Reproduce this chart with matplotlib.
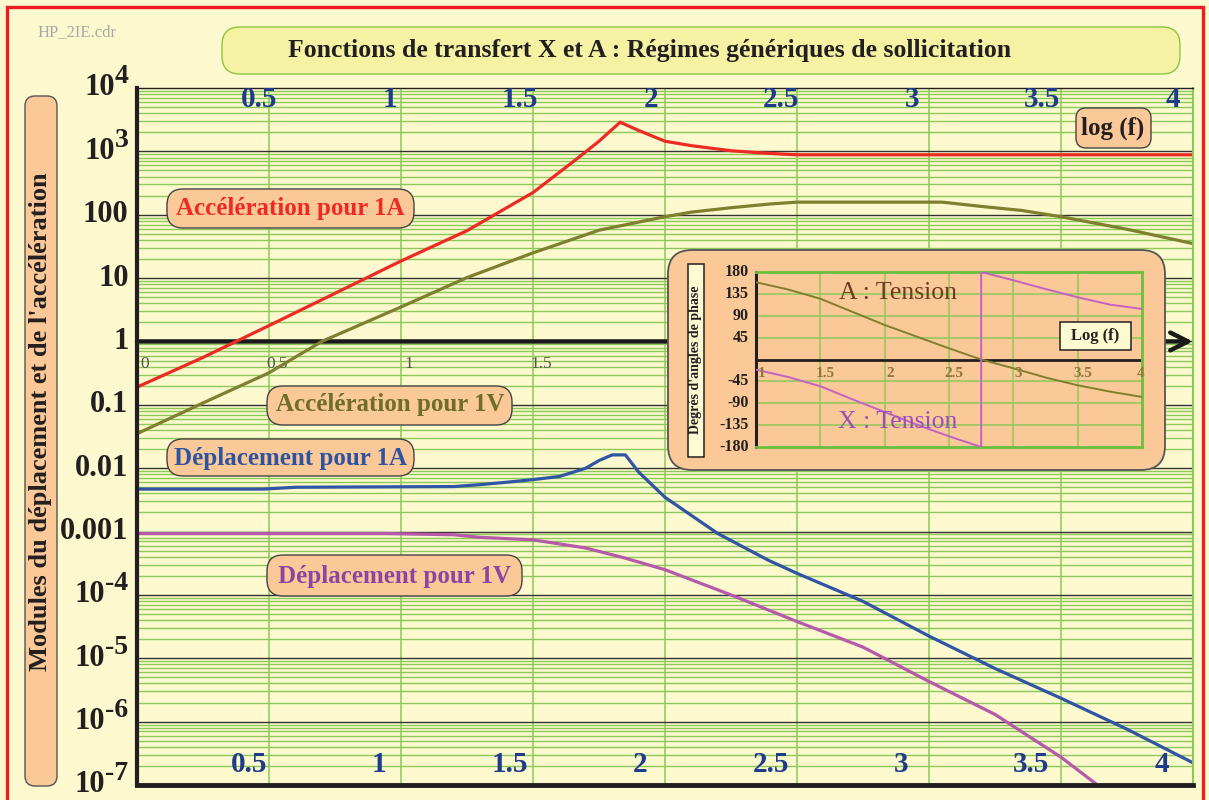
import matplotlib
matplotlib.use("Agg")
import matplotlib.pyplot as plt
from matplotlib.patches import FancyBboxPatch, Rectangle
from matplotlib.transforms import IdentityTransform

# ---------------- data ----------------
# x values are log10(f)
red_x = [0, 0.25, 0.5, 0.75, 1.0, 1.25, 1.5, 1.65, 1.75, 1.83, 1.9, 2.0, 2.1, 2.25, 2.35, 2.45, 2.5, 3.0, 3.5, 4.0]
red_y = [0.19, 0.56, 1.78, 5.75, 18.6, 56, 224, 676, 1445, 2884, 2138, 1445, 1230, 1023, 955, 902, 883, 883, 883, 883]

olive_x = [0, 0.25, 0.5, 0.7, 1.0, 1.25, 1.5, 1.75, 2.0, 2.1, 2.25, 2.4, 2.5, 3.05, 3.2, 3.35, 3.5, 3.75, 4.0]
olive_y = [0.035, 0.107, 0.32, 1.0, 3.5, 10.2, 25, 57, 93, 110, 129, 148, 158, 158, 135, 117, 93, 59, 35]

blue_x = [0, 0.48, 0.6, 1.2, 1.3, 1.4, 1.5, 1.6, 1.7, 1.75, 1.8, 1.85, 1.9, 2.0, 2.2, 2.39, 2.5, 2.75, 3.0, 3.25, 3.5, 3.75, 4.0]
blue_y = [0.00468, 0.00468, 0.0050, 0.00513, 0.0055, 0.0060, 0.0066, 0.0074, 0.0100, 0.0132, 0.0162, 0.0162,
          0.0087, 0.00347, 0.00093, 0.000355, 0.000219, 7.9e-5, 2.24e-5, 6.9e-6, 2.34e-6, 7.6e-7, 2.24e-7]

purple_x = [0, 0.95, 1.2, 1.3, 1.5, 1.7, 1.85, 2.0, 2.25, 2.5, 2.75, 3.0, 3.25, 3.5, 3.66]
purple_y = [0.00093, 0.00093, 0.00089, 0.00081, 0.00074, 0.00055, 0.00038, 0.00025, 1.0e-4, 3.8e-5,
            1.5e-5, 4.3e-6, 1.3e-6, 2.75e-7, 8.5e-8]

phaseA_x = [1, 1.25, 1.5, 1.75, 2, 2.25, 2.5, 2.75, 3, 3.25, 3.5, 3.75, 4]
phaseA_y = [159, 144, 125, 98, 71, 47, 23, 0, -18, -37, -53, -66, -77]

phaseX_x = [1, 1.25, 1.5, 1.75, 2, 2.25, 2.5, 2.75, 2.75, 3, 3.25, 3.5, 3.75, 4]
phaseX_y = [-21, -36, -55, -82, -108, -134, -158, -180, 180, 163, 145, 128, 113, 104]

xtick_vals = [0.5, 1, 1.5, 2, 2.5, 3, 3.5, 4]
xtick_text = ["0.5", "1", "1.5", "2", "2.5", "3", "3.5", "4"]
mid_vals = [0, 0.5, 1, 1.5, 2, 4]
mid_text = ["0", "0.5", "1", "1.5", "2", "4"]
ytick_vals = [1e4, 1e3, 1e2, 1e1, 1, 1e-1, 1e-2, 1e-3, 1e-4, 1e-5, 1e-6, 1e-7]
ytick_base = ["10", "10", "100", "10", "1", "0.1", "0.01", "0.001", "10", "10", "10", "10"]
ytick_exp = ["4", "3", "", "", "", "", "", "", "-4", "-5", "-6", "-7"]
phase_yvals = [180, 135, 90, 45, -45, -90, -135, -180]
phase_xvals = [1, 1.5, 2, 2.5, 3, 3.5, 4]
phase_xtext = ["1", "1.5", "2", "2.5", "3", "3.5", "4"]

title = "Fonctions de transfert X et A : Régimes génériques de sollicitation"
ylabel = "Modules du déplacement et de l'accélération"

# ---------------- style ----------------
SERIF = ["Liberation Serif", "DejaVu Serif"]
plt.rcParams["font.family"] = SERIF
BG = "#FCF9CE"
PEACH = "#FBC898"
GREEN = "#8DC85A"
DARK = "#231F20"
TBLUE = "#1F3C8C"
RED = "#EE2A24"
OLIVE = "#7F7F30"
BLUE = "#2F55A4"
PURPLE = "#B659AA"

W, H = 1209, 800
fig = plt.figure(figsize=(W / 100, H / 100), dpi=100)
fig.patch.set_facecolor(BG)


def fx(px):
    return px / W


def fy(py):
    return 1 - py / H


def rbox(x0, y0, x1, y1, fc, ec, lw, r, z=1):
    p = FancyBboxPatch((x0, H - y1), x1 - x0, y1 - y0,
                       boxstyle=f"round,pad=0,rounding_size={r}",
                       fc=fc, ec=ec, lw=lw, transform=IdentityTransform(), zorder=z)
    fig.add_artist(p)
    return p


def sbox(x0, y0, x1, y1, fc, ec, lw, z=1):
    p = Rectangle((x0, H - y1), x1 - x0, y1 - y0, fc=fc, ec=ec, lw=lw,
                  transform=IdentityTransform(), zorder=z)
    fig.add_artist(p)
    return p


# ---------------- main axes ----------------
L, R, T, B = 137, 1193, 88, 785
ax = fig.add_axes([fx(L), fy(B), fx(R) - fx(L), fy(T) - fy(B)])
ax.set_facecolor(BG)
ax.set_xlim(0, 4)
ax.set_yscale("log")
ax.set_ylim(1e-7, 1e4)
ax.set_xticks([])
ax.set_yticks([])
ax.minorticks_off()
ax.tick_params(which="both", length=0, labelleft=False, labelbottom=False)

# grid
for e in range(-7, 4):
    for m in range(2, 10):
        ax.axhline(m * 10.0 ** e, color=GREEN, lw=1.0, zorder=1)
for e in range(-6, 4):
    ax.axhline(10.0 ** e, color="#333333", lw=1.0, zorder=1.2)
for v in xtick_vals[:-1]:
    ax.axvline(v, color=GREEN, lw=1.1, zorder=1.1)

for s in ["left", "bottom", "top", "right"]:
    ax.spines[s].set_zorder(4)
ax.spines["left"].set_linewidth(3.0)
ax.spines["left"].set_color(DARK)
ax.spines["bottom"].set_linewidth(3.5)
ax.spines["bottom"].set_color(DARK)
ax.spines["top"].set_linewidth(1.0)
ax.spines["top"].set_color(DARK)
ax.spines["right"].set_linewidth(1.5)
ax.spines["right"].set_color(GREEN)

# axis arrow at y = 1
ax.annotate("", xy=(4.0, 1), xytext=(0, 1), xycoords="data",
            arrowprops=dict(arrowstyle="->", lw=3.2, color="#1a1a1a", mutation_scale=32,
                            shrinkA=0, shrinkB=0), zorder=2)
for v, t in zip(mid_vals, mid_text):
    ax.annotate(t, xy=(v + 0.03, 1), xytext=(0, -16), textcoords="offset points",
                ha="center", va="center", fontsize=12.5, color="#555555", zorder=2)

# curves
ax.plot(red_x, red_y, color=RED, lw=2.3, zorder=3, solid_capstyle="butt")
ax.plot(olive_x, olive_y, color=OLIVE, lw=2.3, zorder=3, solid_capstyle="butt")
ax.plot(blue_x, blue_y, color=BLUE, lw=2.3, zorder=3, solid_capstyle="butt")
ax.plot(purple_x, purple_y, color=PURPLE, lw=2.3, zorder=3, solid_capstyle="butt")

# x tick labels (top and bottom rows)
xt = ax.get_xaxis_transform()
for v, t in zip(xtick_vals, xtick_text):
    ax.text(v - 0.03 - 0.012 * v, 0.983, t, transform=xt, ha="center", va="center",
            fontsize=21, fontweight="bold", color=TBLUE, zorder=5)
    ax.text(v - 0.07 - 0.012 * v, 0.029, t, transform=xt, ha="center", va="center",
            fontsize=21, fontweight="bold", color=TBLUE, zorder=5)

# y tick labels
yt = ax.get_yaxis_transform()
xr = -0.008
for v, b, e in zip(ytick_vals, ytick_base, ytick_exp):
    if e:
        et = ax.annotate(e, xy=(xr, v), xycoords=yt, xytext=(0, 8), textcoords="offset points",
                         ha="right", va="center", fontsize=20, fontweight="bold", color=DARK,
                         annotation_clip=False)
        ax.annotate(b, xy=(0, 0.5), xycoords=et, xytext=(0, -8), textcoords="offset points",
                    ha="right", va="center", fontsize=22, fontweight="bold", color=DARK,
                    annotation_clip=False)
    else:
        ax.text(xr, v, b, transform=yt, ha="right", va="center", fontsize=22,
                fontweight="bold", color=DARK)

# ---------------- figure decorations ----------------
fig.add_artist(Rectangle((7, -20), 1196, 813, fill=False, ec="#ED1C24", lw=2.4,
                         transform=IdentityTransform(), zorder=20))
fig.text(fx(38), fy(32), "HP_2IE.cdr", ha="left", va="center", fontsize=12, color="#A8A8A8")

rbox(222, 27, 1180, 74, "#F6F2A4", "#8DC63F", 1.0, 18)
fig.text(fx(650), fy(50), title, ha="center", va="center", fontsize=18.5,
         fontweight="bold", color=DARK, zorder=3)

rbox(25, 96, 57, 786, PEACH, "#555555", 1.0, 10)
fig.text(fx(41), fy(422), ylabel, ha="center", va="center", rotation=90, fontsize=19,
         fontweight="bold", color=DARK, zorder=3)

labels = [
    ("Accélération pour 1A", RED, (167, 189, 414, 228), (290, 209)),
    ("Accélération pour 1V", "#6E6E2A", (267, 386, 512, 425), (390, 405)),
    ("Déplacement pour 1A", "#2E54A0", (167, 439, 414, 476), (290, 458)),
    ("Déplacement pour 1V", "#8E44A0", (267, 555, 522, 596), (395, 576)),
]
for txt, col, (x0, y0, x1, y1), (cx, cy) in labels:
    rbox(x0, y0, x1, y1, PEACH, "#444444", 1.0, 16)
    fig.text(fx(cx), fy(cy), txt, ha="center", va="center", fontsize=18,
             fontweight="bold", color=col, zorder=3)

rbox(1076, 108, 1151, 148, PEACH, "#444444", 1.0, 10)
fig.text(fx(1113), fy(128), "log (f)", ha="center", va="center", fontsize=18,
         fontweight="bold", color=DARK, zorder=3)

# ---------------- inset: phase ----------------
rbox(668, 250, 1165, 470, PEACH, "#555555", 1.3, 24)
iL, iR, iT, iB = 756, 1142, 272, 447
ax2 = fig.add_axes([fx(iL), fy(iB), fx(iR) - fx(iL), fy(iT) - fy(iB)])
ax2.set_zorder(6)
ax2.set_facecolor(PEACH)
ax2.set_xlim(1, 4)
ax2.set_ylim(-180, 180)
ax2.set_xticks([])
ax2.set_yticks([])
for v in phase_xvals[1:-1]:
    ax2.axvline(v, color=GREEN, lw=1.1, zorder=1)
for v in phase_yvals[1:-1]:
    ax2.axhline(v, color=GREEN, lw=1.1, zorder=1)
ax2.axhline(0, color=DARK, lw=2.0, zorder=2)
for s in ["bottom", "top", "right"]:
    ax2.spines[s].set_color("#6CBF3F")
    ax2.spines[s].set_linewidth(2.0)
ax2.spines["left"].set_color(DARK)
ax2.spines["left"].set_linewidth(2.2)
ax2.plot(phaseA_x, phaseA_y, color=OLIVE, lw=1.4, zorder=3)
ax2.plot(phaseX_x, phaseX_y, color="#C462C4", lw=1.4, zorder=3)

yt2 = ax2.get_yaxis_transform()
for v in phase_yvals:
    ax2.text(-0.018, v, str(v), transform=yt2, ha="right", va="center", fontsize=11.5,
             fontweight="bold", color=DARK)
for v, t in zip(phase_xvals, phase_xtext):
    ax2.annotate(t, xy=(min(v + 0.04, 3.99), 0), xytext=(0, -10), textcoords="offset points",
                 ha="center", va="center", fontsize=11, fontweight="bold", color="#8B7B3A",
                 zorder=4)
ax2.text(2.1, 136, "A : Tension", ha="center", va="center", fontsize=18.5,
         color="#6E3B1E", zorder=4)
ax2.text(2.1, -128, "X : Tension", ha="center", va="center", fontsize=18.5,
         color="#9A50B8", zorder=4)

sbox(688, 264, 704, 457, "#FCFAD0", DARK, 1.1, z=7)
t = fig.text(fx(696), fy(360), "Degrés d'angles de phase", ha="center", va="center",
             rotation=90, fontsize=10, fontweight="bold", color=DARK)
t.set_zorder(8)
sbox(1060, 322, 1131, 350, "#FCFAD0", DARK, 1.1, z=7)
t = fig.text(fx(1095), fy(336), "Log (f)", ha="center", va="center", fontsize=12,
             fontweight="bold", color=DARK)
t.set_zorder(8)

fig.savefig("out.png", dpi=100, facecolor=BG)
